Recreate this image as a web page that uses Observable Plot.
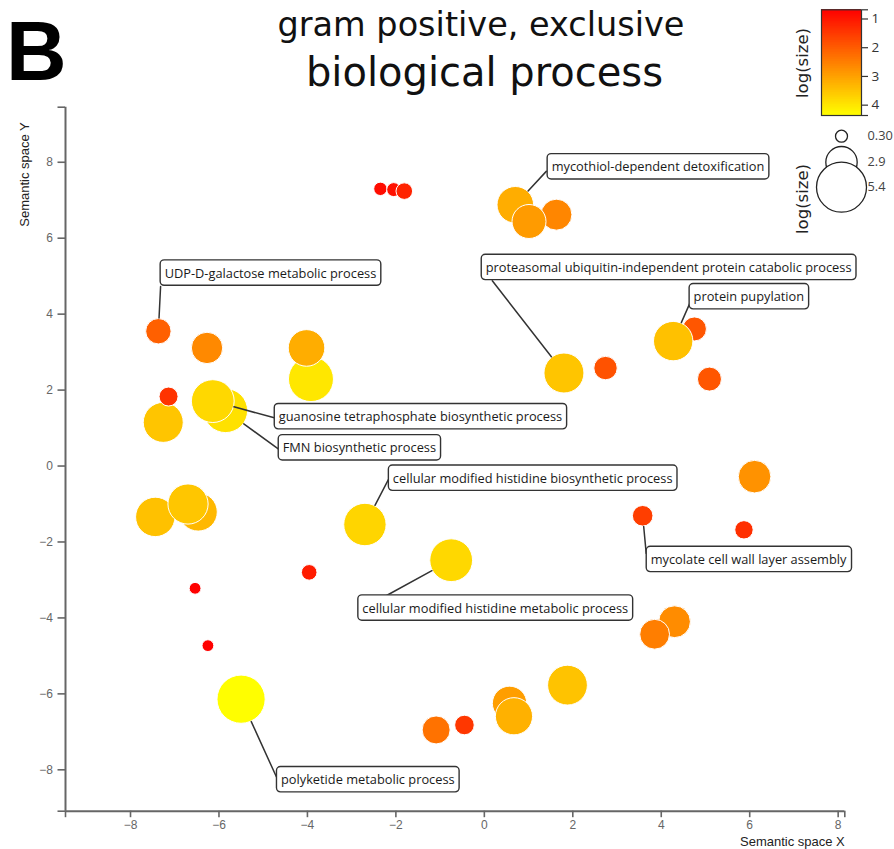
<!DOCTYPE html>
<html><head><meta charset="utf-8">
<script src="https://cdn.jsdelivr.net/npm/d3@7"></script>
<script src="https://cdn.jsdelivr.net/npm/@observablehq/plot@0.6"></script>
<style>
body{margin:0;background:#fff;}
#wrap{position:relative;width:894px;height:849px;overflow:hidden;background:#fff;}
#wrap > svg{position:absolute;}
</style></head><body><div id="wrap"></div>
<script>
// ---- data (semantic space coordinates, log(size)) in drawing order ----
const bubbleX = [-2.35,-2.05,-1.81, 0.70, 1.63, 1.01,-7.37,-6.27,-3.92,-4.02,-7.26,-7.14,-5.85,-6.14, 1.80, 2.74, 4.75, 4.27, 5.09, 6.11, 3.58, 5.87,-7.44,-6.47,-6.70,-2.70,-0.75,-3.96,-6.54,-6.25,-5.50,-1.09,-0.45, 0.57, 0.67, 1.88, 4.30, 3.85];
const bubbleY = [ 7.30, 7.28, 7.24, 6.88, 6.62, 6.44, 3.55, 3.11, 2.29, 3.11, 1.15, 1.83, 1.46, 1.71, 2.45, 2.58, 3.61, 3.29, 2.29,-0.28,-1.31,-1.68,-1.34,-1.21,-1.00,-1.54,-2.48,-2.80,-3.22,-4.73,-6.14,-6.95,-6.82,-6.25,-6.59,-5.77,-4.10,-4.43];
const bubbleLogSize = [0.86,0.92,1.18,3.18,2.62,2.92,2.06,2.66,4.02,3.18,3.52,1.42,3.92,3.80,3.52,1.86,1.92,3.46,1.92,2.78,1.58,1.36,3.46,3.34,3.54,3.76,3.80,1.08,0.70,0.70,4.34,2.32,1.48,2.96,3.24,3.50,2.70,2.50];

// ---- labelled terms ----
const labelText = [
  "mycothiol-dependent detoxification",
  "proteasomal ubiquitin-independent protein catabolic process",
  "protein pupylation",
  "mycolate cell wall layer assembly",
  "UDP-D-galactose metabolic process",
  "guanosine tetraphosphate biosynthetic process",
  "FMN biosynthetic process",
  "cellular modified histidine biosynthetic process",
  "cellular modified histidine metabolic process",
  "polyketide metabolic process"
];
const labelBubble = [3, 14, 17, 20, 6, 13, 12, 25, 26, 30];
const labelX = [1.42,-0.07, 4.63, 3.66,-7.33,-4.75,-4.66,-2.17,-2.86,-4.70];
const labelY = [7.87, 5.22, 4.45,-2.47, 5.07, 1.29, 0.47,-0.33,-3.75,-8.27];
const linkX  = [1.40, 0.18, 4.64, 3.66,-7.32,-4.75,-4.66,-2.17,-2.21,-4.70];
const linkY  = [7.76, 4.88, 4.27,-2.30, 4.73, 1.27, 0.45,-0.36,-3.41,-8.19];

// ---- axes / legends ----
const xDomain = [-9.47, 8.15];
const yDomain = [-9.09, 9.45];
const xTicks = [-8,-6,-4,-2,0,2,4,6,8];
const yTicks = [-8,-6,-4,-2,0,2,4,6,8];
const colorDomain = [0.68, 4.36];
const colorTicks = [1,2,3,4];
const sizeLegendValues = [0.30, 2.9, 5.4];
const sizeLegendLabels = ["0.30","2.9","5.4"];

const colorScale = {type:"linear", domain:colorDomain, range:["#ff0000","#ffff00"], interpolate:"rgb"};
const rScale = {type:"linear", domain:colorDomain, range:[5.8, 24.2]};
const rpx = d3.scaleLinear(rScale.domain, rScale.range);

const bubbles = bubbleX.map((x,i)=>({x, y:bubbleY[i], v:bubbleLogSize[i]}));
const labels = labelText.map((t,i)=>({text:t, b:bubbles[labelBubble[i]], x:labelX[i], y:labelY[i], ex:linkX[i], ey:linkY[i]}));
const fmt = d => Number.isInteger(d) ? d3.format("d")(d) : "";

const main = Plot.plot({
  width:894, height:849,
  marginLeft:65, marginRight:49.7, marginTop:106.7, marginBottom:38.3,
  x:{domain:xDomain}, y:{domain:yDomain},
  r:rScale, color:colorScale,
  style:{fontFamily:"'Liberation Sans', Arial, sans-serif", fontSize:"12px", background:"transparent", overflow:"visible"},
  marks:[
    Plot.ruleX([xDomain[0]], {y1:yDomain[0], y2:yDomain[1], stroke:"#666", strokeWidth:2}),
    Plot.ruleY([yDomain[0]], {x1:xDomain[0], x2:xDomain[1], stroke:"#666", strokeWidth:2}),
    Plot.axisX({ticks:[xDomain[0], ...xTicks, xDomain[1]], tickFormat:fmt, tickSize:6.5, tickPadding:3, color:"#666", strokeWidth:1.6, label:null}),
    Plot.axisY({ticks:[yDomain[0], ...yTicks, yDomain[1]], tickFormat:fmt, tickSize:7.5, tickPadding:5, color:"#666", strokeWidth:1.6, label:null}),
    Plot.text(["Semantic space X"], {frameAnchor:"bottom-right", textAnchor:"end", lineAnchor:"middle", dy:31, fontSize:13, fill:"#222"}),
    Plot.text(["Semantic space Y"], {frameAnchor:"top-left", textAnchor:"end", lineAnchor:"middle", rotate:-90, dx:-41, dy:15, fontSize:13, fill:"#222"}),
    Plot.dot(bubbles, {x:"x", y:"y", r:"v", fill:"v", stroke:"white", strokeWidth:1, sort:null}),
    ...labels.map(l => Plot.arrow([l], {x1:d=>d.b.x, y1:d=>d.b.y, x2:"ex", y2:"ey", headLength:0, insetStart:rpx(l.b.v)+0.5, stroke:"#333", strokeWidth:1.5})),
    Plot.text(labels, {x:"x", y:"y", text:"text", textAnchor:"start", dx:4.5, fontFamily:"'Open Sans', sans-serif", fontSize:12.8, fill:"#1a1a1a", ariaDescription:"boxlabels"})
  ]
});

const wrap = document.getElementById("wrap");
main.style.left = "0px"; main.style.top = "0px";
wrap.appendChild(main);

// white rounded boxes behind the label texts
let labelNodes = main.querySelectorAll('g[aria-description="boxlabels"] text');
if (labelNodes.length === 0) {
  labelNodes = Array.from(main.querySelectorAll('text')).filter(t => labelText.includes(t.textContent));
}
labelNodes.forEach(t => {
  const b = t.getBBox();
  const r = document.createElementNS("http://www.w3.org/2000/svg","rect");
  r.setAttribute("x", b.x - 4.5);
  r.setAttribute("y", b.y + b.height/2 - 12.7);
  r.setAttribute("width", b.width + 9);
  r.setAttribute("height", 25.4);
  r.setAttribute("rx", 4);
  r.setAttribute("fill", "white");
  r.setAttribute("stroke", "#333");
  r.setAttribute("stroke-width", 1.4);
  if (t.getAttribute("transform")) r.setAttribute("transform", t.getAttribute("transform"));
  t.parentNode.insertBefore(r, t);
});

// colour bar legend
const steps = d3.range(0, 150).map(i => colorDomain[0] + (colorDomain[1]-colorDomain[0])*i/150);
const stepW = (colorDomain[1]-colorDomain[0])/150;
const cbar = Plot.plot({
  width:114, height:130, marginLeft:41, marginRight:33, marginTop:9.3, marginBottom:15,
  x:{domain:[0,1], axis:null}, y:{domain:colorDomain, reverse:true, axis:null},
  color:colorScale,
  style:{fontFamily:"'Open Sans', sans-serif", fontSize:"13.5px", background:"transparent", overflow:"visible"},
  marks:[
    Plot.rect(steps, {x1:0, x2:1, y1:d=>d, y2:d=>Math.min(d+stepW*1.3, colorDomain[1]), fill:d=>d, shapeRendering:"crispEdges"}),
    Plot.frame({stroke:"#333", strokeWidth:1.2}),
    Plot.axisY({anchor:"right", ticks:[colorDomain[0], ...colorTicks, colorDomain[1]], tickFormat:fmt, tickSize:6, tickPadding:4, color:"#333", strokeWidth:1.2, label:null})
  ]
});
cbar.style.left = "780px"; cbar.style.top = "0px";
wrap.appendChild(cbar);

// size legend
const sizeData = sizeLegendValues.map((v,i)=>({v, label:sizeLegendLabels[i]}));
const slg = Plot.plot({
  width:114, height:130, marginLeft:41, marginRight:33, marginTop:10, marginBottom:10,
  x:{domain:[0,1], axis:null},
  y:{domain:[sizeLegendValues[0], sizeLegendValues[2]], range:[35.7, 86.7], axis:null},
  r:{type:"linear", domain:[sizeLegendValues[0], sizeLegendValues[2]], range:[6, 25]},
  style:{fontFamily:"'Open Sans', sans-serif", fontSize:"12.8px", background:"transparent", overflow:"visible"},
  marks:[
    Plot.dot(sizeData, {x:0.5, y:"v", r:"v", fill:"white", stroke:"#222", strokeWidth:1.3, sort:null}),
    Plot.text(sizeData, {x:0.5, y:"v", text:"label", textAnchor:"start", dx:26, fill:"#444"})
  ]
});
slg.style.left = "780px"; slg.style.top = "100px";
wrap.appendChild(slg);

// titles and panel letter
const ov = d3.create("svg").attr("width",894).attr("height",849).style("left","0px").style("top","0px").style("pointer-events","none");
ov.append("text").attr("x",6).attr("y",80).attr("font-family","'Liberation Sans', Arial, sans-serif").attr("font-weight","bold").attr("font-size",84).attr("fill","#000").text("B");
ov.append("text").attr("x",481).attr("y",36).attr("text-anchor","middle").attr("font-family","'DejaVu Sans', sans-serif").attr("font-size",33.5).attr("fill","#111").text("gram positive, exclusive");
ov.append("text").attr("x",484.5).attr("y",86).attr("text-anchor","middle").attr("font-family","'DejaVu Sans', sans-serif").attr("font-size",40).attr("fill","#111").text("biological process");
ov.append("text").attr("transform","translate(802,63) rotate(-90)").attr("text-anchor","middle").attr("dy","0.35em").attr("font-family","'DejaVu Sans', sans-serif").attr("font-size",16.5).attr("fill","#222").text("log(size)");
ov.append("text").attr("transform","translate(802,199) rotate(-90)").attr("text-anchor","middle").attr("dy","0.35em").attr("font-family","'DejaVu Sans', sans-serif").attr("font-size",16.5).attr("fill","#222").text("log(size)");
wrap.appendChild(ov.node());
</script></body></html>
